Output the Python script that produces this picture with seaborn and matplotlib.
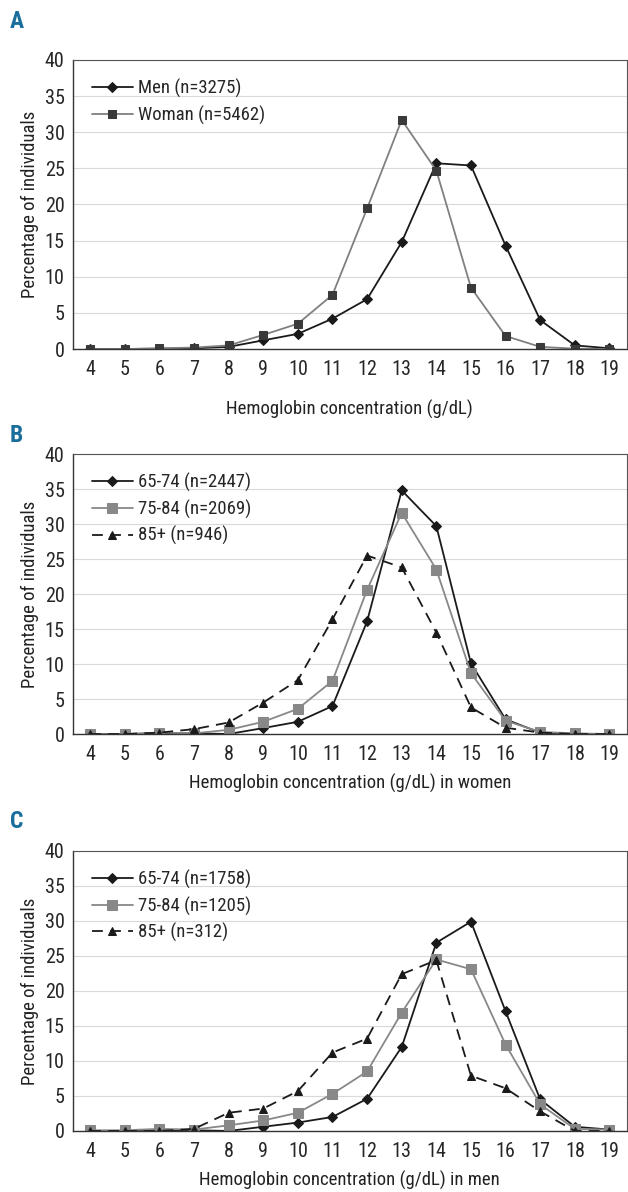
import numpy as np
import pandas as pd
import matplotlib
matplotlib.use("Agg")
import matplotlib.pyplot as plt
import seaborn as sns
from matplotlib import font_manager
from matplotlib.ticker import FixedLocator

hb = [4, 5, 6, 7, 8, 9, 10, 11, 12, 13, 14, 15, 16, 17, 18, 19]

# panel A: all participants by sex
men_all = [0, 0, 0.05, 0.1, 0.3, 1.2, 2.1, 4.2, 6.9, 14.8, 25.7, 25.4, 14.3, 4.0, 0.5, 0.1]
women_all = [0, 0, 0.1, 0.2, 0.5, 1.95, 3.5, 7.5, 19.45, 31.7, 24.7, 8.5, 1.8, 0.3, 0.05, 0]

# panel B: women by age group
w_6574 = [0, 0, 0.1, 0.1, 0, 0.85, 1.75, 4.0, 16.1, 34.8, 29.7, 10.1, 2.1, 0.2, 0, 0]
w_7584 = [0, 0, 0.2, 0.1, 0.6, 1.75, 3.6, 7.6, 20.6, 31.6, 23.5, 8.7, 1.9, 0.3, 0.1, 0]
w_85 = [0, 0, 0.2, 0.7, 1.65, 4.5, 7.7, 16.4, 25.5, 23.8, 14.5, 3.8, 0.9, 0.2, 0, 0]

# panel C: men by age group
m_6574 = [0, 0, 0, 0.1, 0, 0.6, 1.2, 2.0, 4.6, 12.0, 26.9, 29.9, 17.1, 4.5, 0.6, 0.2]
m_7584 = [0.1, 0.1, 0.3, 0.2, 0.8, 1.5, 2.6, 5.3, 8.5, 16.9, 24.5, 23.1, 12.35, 3.8, 0.3, 0.2]
m_85 = [0, 0, 0, 0.3, 2.6, 3.2, 5.7, 11.2, 13.2, 22.4, 24.4, 7.9, 6.1, 2.8, 0, 0]

labels_a = ["Men (n=3275)", "Woman (n=5462)"]
labels_b = ["65-74 (n=2447)", "75-84 (n=2069)", "85+ (n=946)"]
labels_c = ["65-74 (n=1758)", "75-84 (n=1205)", "85+ (n=312)"]

sns.set_style("white")
# narrow face if one is around, otherwise condensed DejaVu
names = {f.name for f in font_manager.fontManager.ttflist}
narrow = [n for n in ["Liberation Sans Narrow", "Arial Narrow", "Roboto Condensed"] if n in names]
plt.rcParams["font.family"] = narrow + ["DejaVu Sans"]
plt.rcParams["font.stretch"] = "condensed"

fig = plt.figure(figsize=(6.28, 11.92), dpi=100)

FS = 13.5
TICK_FS = 14.5
BLUE = "#1a6e9c"


def style_axis(ax, xlabel):
    ax.set_xlim(3.5, 19.5)
    ax.set_ylim(0, 40)
    ax.set_yticks(range(0, 41, 5))
    ax.set_xticks(hb)
    ax.set_xticklabels([str(h) for h in hb], fontsize=TICK_FS)
    ax.xaxis.set_minor_locator(FixedLocator(np.arange(3.5, 19.6, 1)))
    ax.tick_params(axis="x", which="major", length=0, pad=8)
    ax.tick_params(axis="x", which="minor", length=5, width=0.8, direction="out", color="#333333")
    ax.tick_params(axis="y", length=4, width=0.8, direction="out", color="#333333",
                   labelsize=TICK_FS, pad=2)
    ax.grid(axis="y", color="#d9d9d9", linewidth=0.8)
    ax.set_axisbelow(True)
    for s in ["left", "bottom"]:
        ax.spines[s].set_color("#333333")
        ax.spines[s].set_linewidth(1.0)
    ax.spines["top"].set_color("#555555")
    ax.spines["right"].set_color("#555555")
    ax.spines["top"].set_linewidth(0.8)
    ax.spines["right"].set_linewidth(0.8)
    ax.set_ylabel("Percentage of individuals", fontsize=FS, labelpad=4, color="#222222")
    ax.set_xlabel(xlabel, fontsize=FS, color="#222222", labelpad=7)


def draw(ax, series, labels, styles):
    for vals, lab, st in zip(series, labels, styles):
        sns.lineplot(x=hb, y=vals, ax=ax, color=st["color"], linestyle=st["ls"],
                     marker=st["marker"], markersize=st["ms"], markerfacecolor=st["mfc"],
                     markeredgecolor=st["mfc"], linewidth=1.3, label=lab)
    ax.legend(loc="upper left", frameon=False, fontsize=FS, handlelength=2.2,
              handletextpad=0.3, labelspacing=0.4, borderaxespad=0.6)


men_st = dict(color="#1a1a1a", ls="-", marker="D", ms=5, mfc="#1a1a1a")
wom_st_a = dict(color="#808080", ls="-", marker="s", ms=6, mfc="#3a3a3a")
wom_st = dict(color="#888888", ls="-", marker="s", ms=6.5, mfc="#888888")
old_st = dict(color="#1a1a1a", ls=(0, (6, 4)), marker="^", ms=6, mfc="#1a1a1a")

ax_a = fig.add_axes([0.116, 0.7072, 0.882, 0.2425])
draw(ax_a, [men_all, women_all], labels_a, [men_st, wom_st_a])
style_axis(ax_a, "Hemoglobin concentration (g/dL)")
ax_a.xaxis.labelpad = 15

ax_b = fig.add_axes([0.116, 0.3842, 0.882, 0.2349])
draw(ax_b, [w_6574, w_7584, w_85], labels_b, [men_st, wom_st, old_st])
style_axis(ax_b, "Hemoglobin concentration (g/dL) in women")

ax_c = fig.add_axes([0.116, 0.0512, 0.882, 0.2349])
draw(ax_c, [m_6574, m_7584, m_85], labels_c, [men_st, wom_st, old_st])
style_axis(ax_c, "Hemoglobin concentration (g/dL) in men")

for letter, y in [("A", 22), ("B", 436), ("C", 822)]:
    fig.text(10 / 628, 1 - y / 1192, letter, fontsize=17, fontweight="bold",
             color=BLUE, va="center", ha="left")

fig.savefig("out.png", dpi=100)
